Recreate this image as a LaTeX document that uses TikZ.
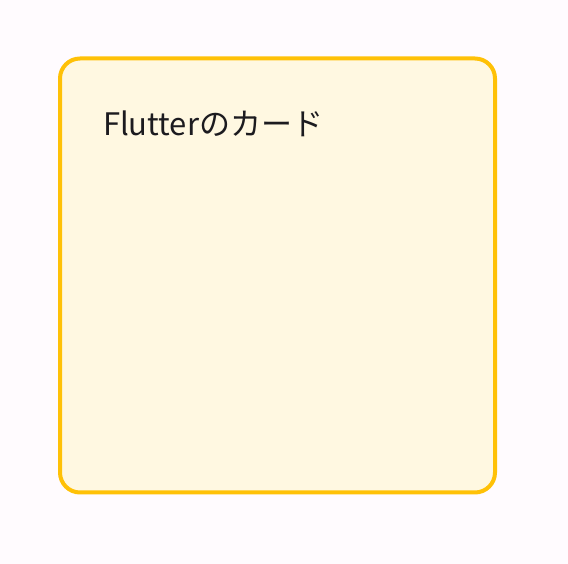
\documentclass[tikz,border=0pt]{standalone}
\usepackage{fontspec}
\setmainfont{Noto Sans CJK JP}
\definecolor{pagebg}{HTML}{FFFBFE}
\definecolor{cardline}{HTML}{FFC107}
\definecolor{cardfill}{HTML}{FFF8E1}
\definecolor{cardtext}{HTML}{1C1B1F}
\begin{document}
\begin{tikzpicture} [x=1pt, y=1pt, every node/.style = {outer sep=0pt}]
 \fill [pagebg] (0,0) rectangle (568,564);
 \useasboundingbox (0,0) rectangle (568,564);
 \node (card) [draw=cardline, fill=cardfill, line width=4pt, rounded corners=20pt,
 minimum width=435pt, minimum height=434pt] at (277.5,288.5) {};
 \node (title) [anchor=base west, inner sep=0pt, text=cardtext, font=\fontsize{31}{36}\selectfont]
 at ([xshift=43pt, yshift=-77pt]card.north west) {Flutterのカード};
\end{tikzpicture}
\end{document}
